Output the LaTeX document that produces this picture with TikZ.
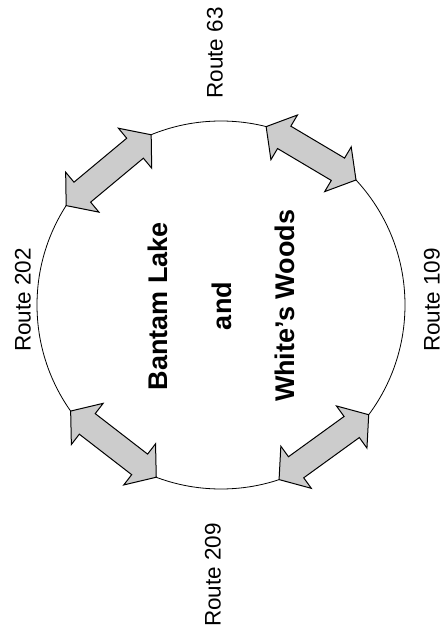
\documentclass[tikz,border=0pt]{standalone}
\usepackage{fontspec}
\setmainfont{Liberation Sans}
\tikzset{
  roadarrow/.style={draw=black, line width=1pt, fill=black!20, line join=miter},
  route/.style={rotate=90, font=\fontsize{22.5}{27}\selectfont},
  place/.style={rotate=90, font=\fontsize{27}{32}\selectfont\bfseries}
}
\begin{document}
\begin{tikzpicture}[x=1pt, y=1pt]
  \useasboundingbox (-221,-332) rectangle (222,305);

  % The area: one big circle
  \draw[line width=0.8pt] (0,0) circle (184pt);

  % Double arrows sitting on the circle (start/end angles of the tips)
  \foreach \a/\b in {112.3/147.3, 42.8/75.8, 215.2/249.4, 288.4/323.4} {
    \pgfmathsetmacro\len{2*184*sin((\b-\a)/2)}
    \pgfmathsetmacro\dir{(\a+\b)/2+90}
    \draw[roadarrow, shift={(\a:184)}, rotate=\dir]
      (0,0) -- (21,26) -- (21,13) -- (\len-21,13) -- (\len-21,26) -- (\len,0)
      -- (\len-21,-26) -- (\len-21,-13) -- (21,-13) -- (21,-26) -- cycle;
  }

  % Names in the middle
  \node[place] (lake) at (-63,-1) {Bantam Lake};
  \node[place] (and) at (1,-1) {and};
  \node[place] (woods) at (64,-1) {White's Woods};

  % Roads around
  \node[route] (r63) at (-6,252) {Route 63};
  \node[route] (r202) at (-198,5) {Route 202};
  \node[route] (r109) at (211,5) {Route 109};
  \node[route] (r209) at (-8,-270) {Route 209};
\end{tikzpicture}
\end{document}
